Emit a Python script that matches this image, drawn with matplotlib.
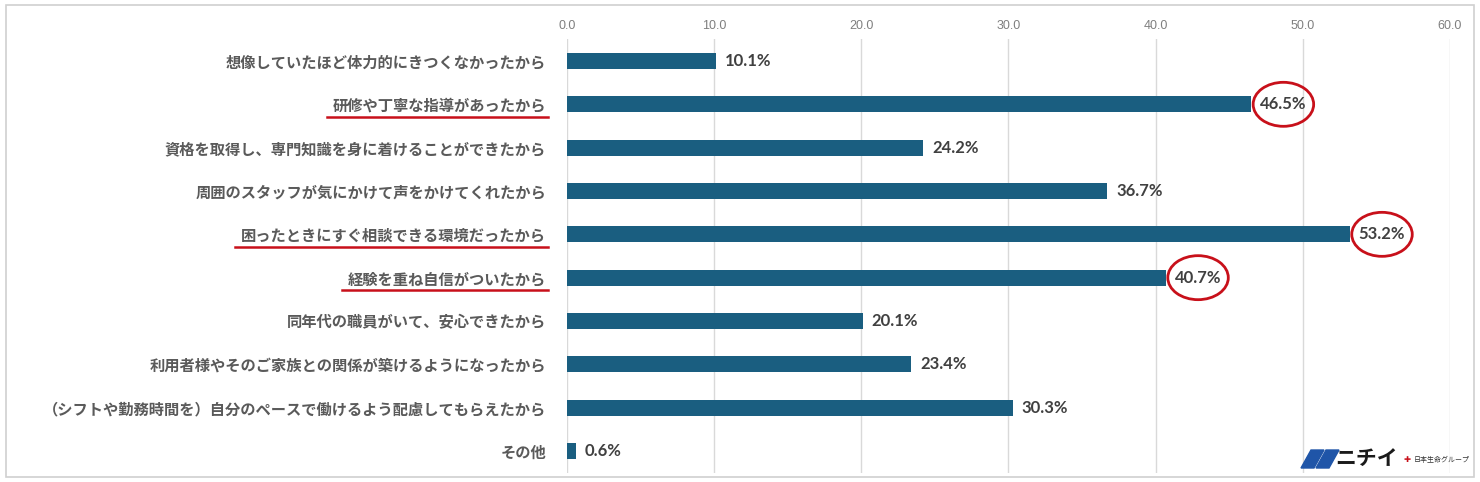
import matplotlib
matplotlib.use("Agg")
import matplotlib.pyplot as plt
from matplotlib.patches import Ellipse, Rectangle, Polygon
from matplotlib.lines import Line2D

plt.rcParams['font.family'] = ['Noto Sans CJK JP', 'DejaVu Sans']

LABELS = [
    "想像していたほど体力的にきつくなかったから",
    "研修や丁寧な指導があったから",
    "資格を取得し、専門知識を身に着けることができたから",
    "周囲のスタッフが気にかけて声をかけてくれたから",
    "困ったときにすぐ相談できる環境だったから",
    "経験を重ね自信がついたから",
    "同年代の職員がいて、安心できたから",
    "利用者様やそのご家族との関係が築けるようになったから",
    "（シフトや勤務時間を）自分のペースで働けるよう配慮してもらえたから",
    "その他",
]
VALUES = [10.1, 46.5, 24.2, 36.7, 53.2, 40.7, 20.1, 23.4, 30.3, 0.6]
HIGHLIGHT = [1, 4, 5]
XTICKS = [0, 10, 20, 30, 40, 50, 60]

BAR = "#1a5e80"
RED = "#c8101a"
GRAY = "#5a5a5a"

fig = plt.figure(figsize=(14.8, 4.82), dpi=100)
ax = fig.add_axes([567 / 1480, 1 - 472.7 / 482, (1450 - 567) / 1480, (472.7 - 39.3) / 482])

y = list(range(len(LABELS)))
ax.barh(y, VALUES, height=0.37, color=BAR, zorder=3)
ax.set_ylim(len(LABELS) - 0.5, -0.5)
ax.set_xlim(0, 60)
ax.set_xticks(XTICKS)
ax.set_xticklabels([f"{t:.1f}" for t in XTICKS], fontsize=9, color="#7f7f7f",
                   family=["Liberation Sans Narrow", "Liberation Sans"])
ax.xaxis.tick_top()
ax.tick_params(axis="x", length=0, pad=5)
ax.set_yticks(y)
ax.set_yticklabels(LABELS, fontsize=11, color=GRAY, fontweight="bold")
ax.tick_params(axis="y", length=0, pad=15)
ax.grid(axis="x", color="#d9d9d9", lw=1, zorder=0)
for s in ax.spines.values():
    s.set_visible(False)

for i, v in enumerate(VALUES):
    ax.text(v + 0.6, i, f"{v}%", va="center", ha="left", fontsize=12, fontweight="bold",
            color="#404040", family="Lato")

fig.canvas.draw()
r = fig.canvas.get_renderer()
W, H = fig.bbox.width, fig.bbox.height

# red circles around highlighted values
for i in HIGHLIGHT:
    bb = ax.texts[i].get_window_extent(r)
    cx, cy = (bb.x0 + bb.x1) / 2, (bb.y0 + bb.y1) / 2
    e = Ellipse((cx / W, cy / H), (bb.width + 14) / W, 44 / H, fill=False,
                edgecolor=RED, lw=2, transform=fig.transFigure, zorder=5)
    fig.add_artist(e)

# red underlines under highlighted labels
ticks = ax.get_yticklabels()
for i in HIGHLIGHT:
    bb = ticks[i].get_window_extent(r)
    cy = (bb.y0 + bb.y1) / 2 - 11
    fig.add_artist(Line2D([(bb.x0 - 6) / W, (bb.x1 + 2) / W], [cy / H, cy / H],
                          color=RED, lw=1.8, transform=fig.transFigure))

# outer frame
fig.add_artist(Rectangle((6 / W, 5 / H), (1474 - 6) / W, (477 - 5) / H, fill=False,
                         edgecolor="#d0d0d0", lw=1.2, transform=fig.transFigure))

# logo
for dx in (0, 15):
    fig.add_artist(Polygon([((1301 + dx) / W, 1 - 468 / H), ((1311 + dx) / W, 1 - 450 / H),
                            ((1324 + dx) / W, 1 - 450 / H), ((1314 + dx) / W, 1 - 468 / H)],
                           closed=True, color="#1f55a8", transform=fig.transFigure))
fig.text(1335 / W, 1 - 458 / H, "ニチイ", fontsize=15, fontweight="bold", color="#1a1a1a",
         va="center", ha="left")
fig.text(1404 / W, 1 - 460 / H, "✚", fontsize=6, color=RED, va="center", ha="left",
         family="DejaVu Sans")
fig.text(1414 / W, 1 - 460 / H, "日本生命グループ", fontsize=5, color="#333333",
         va="center", ha="left")

fig.savefig("out.png", dpi=100)
